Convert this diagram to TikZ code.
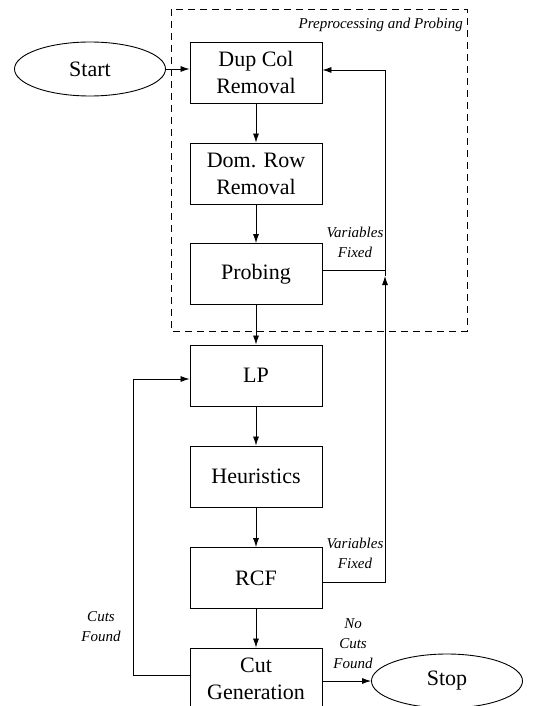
\documentclass[tikz,border=0pt]{standalone}
\usepackage{fontspec}
\setmainfont{Liberation Serif}
\usetikzlibrary{arrows.meta,shapes.geometric,calc}
\begin{document}
\begin{tikzpicture}[x=1pt,y=-1pt,
  box/.style={draw,line width=0.9pt,minimum width=132pt,minimum height=61pt,inner sep=0pt,align=center,font=\fontsize{22}{27}\selectfont},
  oval/.style={draw,line width=0.9pt,ellipse,minimum width=151pt,minimum height=54pt,inner sep=0pt,font=\fontsize{22}{27}\selectfont},
  lab/.style={align=center,font=\itshape\fontsize{15}{20}\selectfont,inner sep=0pt},
  arr/.style={line width=0.8pt,-{Latex[length=9pt,width=6pt]}},
  ln/.style={line width=0.8pt}]
\clip (0,0) rectangle (556,706);
\fill[white] (0,0) rectangle (556,706);
% dashed group
\draw[line width=0.9pt,dash pattern=on 7pt off 5pt] (171,9) rectangle (467,331);
\node[lab,anchor=east] (pp) at (463,25) {Preprocessing and Probing};
% nodes
\node[oval] (start) at (90,69) {Start};
\node[box] (dup) at (256,72.5) {Dup Col\\Removal};
\node[box] (dom) at (256,173.5) {Dom. Row\\Removal};
\node[box] (prob) at (256,274) {\raisebox{-4pt}{Probing}};
\node[box] (lp) at (256,375.5) {LP};
\node[box] (heur) at (256,476.5) {Heuristics};
\node[box] (rcf) at (256,578) {RCF};
\node[box] (cut) at (256,678.5) {Cut\\Generation};
\node[oval] (stop) at (447,681) {Stop};
% coordinates
\coordinate (fx) at (385,0);
\coordinate (cx) at (133,0);
\coordinate (tipup) at (385,276);
% main flow
\draw[arr] (start.east) -- (start -| dup.west);
\draw[arr] (dup) -- (dom);
\draw[arr] (dom) -- (prob);
\draw[arr] (prob) -- (lp);
\draw[arr] (lp) -- (heur);
\draw[arr] (heur) -- (rcf);
\draw[arr] (rcf) -- (cut);
\draw[arr] (cut.east |- stop.west) -- (stop.west);
% variables fixed feedback
\draw[arr] ($(rcf.east)+(0,4)$) -- ($(fx |- rcf.east)+(0,4)$) -- (tipup);
\draw[ln] (tipup) -- ($(fx |- prob.east)+(0,-4)$);
\draw[ln] ($(prob.east)+(0,-4)$) -- ($(fx |- prob.east)+(0,-4)$);
\draw[arr] ($(fx |- prob.east)+(0,-4)$) -- ($(fx |- dup.east)+(0,-2.5)$) -- ($(dup.east)+(0,-2.5)$);
% cuts found feedback
\draw[arr] ($(cut.west)+(0,-3)$) -- ($(cx |- cut.west)+(0,-3)$) -- ($(cx |- lp.west)+(0,3.5)$) -- ($(lp.west)+(0,3.5)$);
% labels
\node[lab] (vf1) at (355,242) {Variables\\Fixed};
\node[lab] (vf2) at (355,553) {Variables\\Fixed};
\node[lab] (cf) at (101,627) {Cuts\\Found};
\node[lab] (ncf) at (353,644) {No\\Cuts\\Found};
\end{tikzpicture}
\end{document}
